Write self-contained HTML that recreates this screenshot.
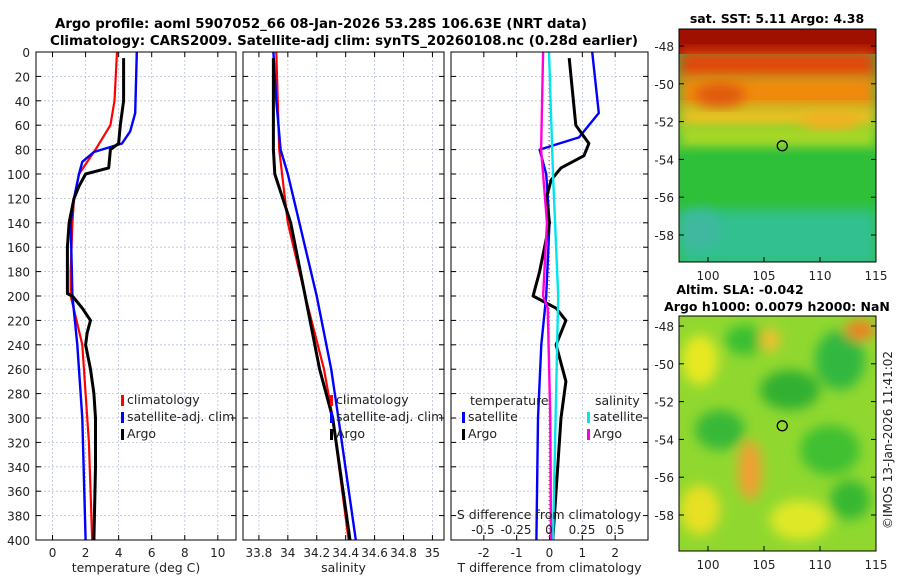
<!DOCTYPE html>
<html><head><meta charset="utf-8"><style>
body{margin:0;background:#fff;}
svg{display:block;font-family:"DejaVu Sans","Liberation Sans",sans-serif;}
</style></head><body>
<svg id="c" width="900" height="580" xmlns="http://www.w3.org/2000/svg">
<defs>
<filter id="blur" x="-20%" y="-20%" width="140%" height="140%"><feGaussianBlur stdDeviation="6"/></filter>
<clipPath id="m1"><rect x="679" y="29" width="197" height="233"/></clipPath>
<clipPath id="m2"><rect x="679" y="316" width="197" height="235"/></clipPath>
</defs>
<text x="55" y="28" font-size="13" font-weight="bold" textLength="532" lengthAdjust="spacingAndGlyphs">Argo profile: aoml 5907052_66 08-Jan-2026 53.28S 106.63E (NRT data)</text>
<text x="50" y="45" font-size="13" font-weight="bold" textLength="588" lengthAdjust="spacingAndGlyphs">Climatology: CARS2009. Satellite-adj clim: synTS_20260108.nc (0.28d earlier)</text>
<g id="maps">
<g clip-path="url(#m1)">
<rect x="679" y="29" width="197" height="233" fill="#2fbf3f"/>
<rect x="679" y="29" width="197" height="25" fill="#a01000"/>
<rect x="679" y="50" width="197" height="30" fill="#e04a10" filter="url(#blur)"/>
<rect x="679" y="75" width="197" height="35" fill="#f08a10" filter="url(#blur)"/>
<rect x="679" y="105" width="197" height="25" fill="#e8c020" filter="url(#blur)"/>
<rect x="679" y="125" width="197" height="25" fill="#a8d828" filter="url(#blur)"/>
<rect x="679" y="150" width="197" height="65" fill="#2fc038" filter="url(#blur)"/>
<rect x="679" y="210" width="197" height="55" fill="#30c090" filter="url(#blur)"/>
<ellipse cx="720" cy="95" rx="25" ry="12" fill="#e05a10" filter="url(#blur)"/>
<ellipse cx="830" cy="120" rx="30" ry="10" fill="#f0b020" filter="url(#blur)"/>
<ellipse cx="700" cy="230" rx="20" ry="20" fill="#40b8a0" filter="url(#blur)"/>
</g>
<g clip-path="url(#m2)">
<rect x="679" y="316" width="197" height="235" fill="#90d830"/>
<g filter="url(#blur)">
<ellipse cx="700" cy="360" rx="18" ry="25" fill="#e8e820"/>
<ellipse cx="745" cy="340" rx="20" ry="15" fill="#38c030"/>
<ellipse cx="790" cy="390" rx="30" ry="20" fill="#30b030"/>
<ellipse cx="840" cy="360" rx="25" ry="30" fill="#30b840"/>
<ellipse cx="860" cy="330" rx="15" ry="10" fill="#f08020"/>
<ellipse cx="750" cy="470" rx="12" ry="30" fill="#f0a030"/>
<ellipse cx="720" cy="430" rx="25" ry="20" fill="#38b838"/>
<ellipse cx="830" cy="450" rx="30" ry="25" fill="#40c030"/>
<ellipse cx="800" cy="520" rx="30" ry="20" fill="#e0e828"/>
<ellipse cx="700" cy="510" rx="20" ry="25" fill="#e8e020"/>
<ellipse cx="770" cy="340" rx="10" ry="12" fill="#f0c030"/>
<ellipse cx="850" cy="500" rx="20" ry="20" fill="#38b830"/>
</g>
</g>
<rect x="679" y="29" width="197" height="233" fill="none" stroke="#000"/>
<rect x="679" y="316" width="197" height="235" fill="none" stroke="#000"/>
<text x="777" y="23" text-anchor="middle" font-size="12.5" font-weight="bold">sat. SST: 5.11 Argo: 4.38</text>
<text x="740" y="294" text-anchor="middle" font-size="12.5" font-weight="bold">Altim. SLA: -0.042</text>
<text x="777" y="311" text-anchor="middle" font-size="12.5" font-weight="bold">Argo h1000: 0.0079 h2000: NaN</text>
<text transform="translate(892,440) rotate(-90)" text-anchor="middle" font-size="12" fill="#222">©IMOS 13-Jan-2026 11:41:02</text>
</g>
</svg>
<script>
// ---- data ----
const tDepth=[5,40,60,75,80,95,100,110,120,140,160,180,198,200,210,220,230,240,260,280,300,340,400];
const tArgo=[4.3,4.3,4.1,4.0,3.5,3.4,2.0,1.6,1.3,1.0,0.9,0.9,0.9,1.2,1.8,2.3,2.1,2.0,2.3,2.5,2.6,2.6,2.5];
const cDepth=[0,40,60,80,100,120,140,180,200,240,280,320,400];
const tClim=[3.9,3.75,3.5,2.6,1.6,1.3,1.2,1.1,1.1,1.8,2.0,2.2,2.4];
const sDepth=[0,50,65,75,82,90,100,120,140,200,240,300,400];
const tSat=[5.1,5.0,4.7,4.2,2.5,1.8,1.6,1.3,1.1,1.2,1.5,1.8,2.0];
const saDepth=[5,80,100,140,200,260,300,400];
const sArgo=[33.9,33.9,33.91,34.02,34.12,34.22,34.31,34.43];
const scDepth=[0,80,140,200,260,300,400];
const sClim=[33.92,33.94,34.0,34.12,34.25,34.31,34.42];
const ssDepth=[0,40,80,100,140,200,260,300,400];
const sSat=[33.9,33.92,33.95,34.0,34.08,34.2,34.3,34.35,34.47];
const dDepth=[5,60,75,85,95,105,120,140,180,200,210,220,240,270,300,400];
const dTArgo=[0.6,0.8,1.2,1.05,0.35,0.05,-0.1,0.0,-0.3,-0.5,0.2,0.5,0.2,0.5,0.35,0.1];
const dsDepth=[0,50,70,80,100,140,200,240,300,400];
const dTSat=[1.3,1.5,0.9,-0.3,-0.1,0.0,-0.1,-0.25,-0.35,-0.4];
const dcDepth=[0,100,200,300,400];
const dSSat=[0,0.03,0.07,0.05,0.03];
const dmDepth=[0,80,140,200,210,300,400];
const dSArgo=[-0.045,-0.06,-0.015,-0.045,-0.01,0.01,0.015];
const depthTicks=[0,20,40,60,80,100,120,140,160,180,200,220,240,260,280,300,320,340,360,380,400];
const tTicks=[0,2,4,6,8,10];
const sTicks=[33.8,34,34.2,34.4,34.6,34.8,35];
const sTickLabels=["33.8","34","34.2","34.4","34.6","34.8","35"];
const dTTicks=[-2,-1,0,1,2];
const dSTicks=[-0.5,-0.25,0,0.25,0.5];
const latTicks=[-48,-50,-52,-54,-56,-58];
const lonTicks=[100,105,110,115];
const argoLon=106.63, argoLat=-53.28;

const svg=document.getElementById('c');
const NS='http://www.w3.org/2000/svg';
function mk(tag,attrs,parent){const e=document.createElementNS(NS,tag);for(const k in attrs)e.setAttribute(k,attrs[k]);(parent||svg).appendChild(e);return e;}
const Y0=52,Y1=540;
const yD=d=>Y0+(d/400)*(Y1-Y0);
function lin(d0,d1,r0,r1){return v=>r0+(v-d0)/(d1-d0)*(r1-r0);}
const panels=[
 {x0:36,x1:236,sx:lin(-1,11.1,36,236),ticks:tTicks,labels:tTicks.map(String),xl:"temperature (deg C)",name:"temperature"},
 {x0:243,x1:444,sx:lin(33.69,35.08,243,444),ticks:sTicks,labels:sTickLabels,xl:"salinity",name:"salinity"},
 {x0:451,x1:648,sx:lin(-3,3,451,648),ticks:dTTicks,labels:dTTicks.map(String),xl:"T difference from climatology",name:"difference"}
];
panels.forEach((p,i)=>{
 const g=mk('g',{});
 
 
 depthTicks.forEach(d=>{if(d>0&&d<400)mk('line',{x1:p.x0,x2:p.x1,y1:yD(d),y2:yD(d),stroke:'#b8c0e0','stroke-width':0.8,'stroke-dasharray':'2,2'},g);});
 p.ticks.forEach(t=>{const x=p.sx(t);mk('line',{x1:x,x2:x,y1:Y0,y2:Y1,stroke:'#b8c0e0','stroke-width':0.8,'stroke-dasharray':'2,2'},g);
  mk('line',{x1:x,x2:x,y1:Y1,y2:Y1-5,stroke:'#000'},g);mk('line',{x1:x,x2:x,y1:Y0,y2:Y0+5,stroke:'#000'},g);});
 p.ticks.forEach((t,j)=>{const tx=mk('text',{x:p.sx(t),y:Y1+17,'text-anchor':'middle','font-size':12,fill:'#222'},g);tx.textContent=p.labels[j];});
 depthTicks.forEach(d=>{mk('line',{x1:p.x0,x2:p.x0+5,y1:yD(d),y2:yD(d),stroke:'#000'},g);mk('line',{x1:p.x1,x2:p.x1-5,y1:yD(d),y2:yD(d),stroke:'#000'},g);});
 const xl=mk('text',{x:(p.x0+p.x1)/2,y:572,'text-anchor':'middle','font-size':12.5,fill:'#222'},g);xl.textContent=p.xl;
 p.g=g;
});
depthTicks.forEach(d=>{const t=mk('text',{x:30,y:yD(d)+5,'text-anchor':'end','font-size':12,fill:'#222'});t.textContent=d;
 });
function line(xs,ds,sx,color,w,name,parent){
 const pts=xs.map((v,i)=>sx(v).toFixed(1)+','+yD(ds[i]).toFixed(1)).join(' ');
 const e=mk('polyline',{points:pts,fill:'none',stroke:color,'stroke-width':w,'stroke-linejoin':'round'},parent);
 
 
}
const P=panels;
line(tClim,cDepth,P[0].sx,'#ff0000',2.2,'temp-climatology-line',P[0].g);
line(tSat,sDepth,P[0].sx,'#0000ff',2.4,'temp-satellite-line',P[0].g);
line(tArgo,tDepth,P[0].sx,'#000',3,'temp-argo-line',P[0].g);
line(sClim,scDepth,P[1].sx,'#ff0000',2.2,'sal-climatology-line',P[1].g);
line(sSat,ssDepth,P[1].sx,'#0000ff',2.4,'sal-satellite-line',P[1].g);
line(sArgo,saDepth,P[1].sx,'#000',3,'sal-argo-line',P[1].g);
const sxS=lin(0,0.5,549,615);
mk('line',{x1:549,x2:549,y1:Y0,y2:Y1,stroke:'#a05070','stroke-width':1,'stroke-dasharray':'1,3'},P[2].g);
line(dTSat,dsDepth,P[2].sx,'#0000ff',2.4,'tdiff-satellite-line',P[2].g);
line(dTArgo,dDepth,P[2].sx,'#000',3,'tdiff-argo-line',P[2].g);
line(dSSat,dcDepth,sxS,'#00e5ee',2.4,'sdiff-satellite-line',P[2].g);
line(dSArgo,dmDepth,sxS,'#ff00dd',2.4,'sdiff-argo-line',P[2].g);
const st=mk('text',{x:549,y:519,'text-anchor':'middle','font-size':12.5,fill:'#222'});st.textContent='S difference from climatology';

dSTicks.forEach(t=>{const e=mk('text',{x:sxS(t),y:534,'text-anchor':'middle','font-size':12,fill:'#222'});e.textContent=String(t);
 });
panels.forEach(p=>mk('rect',{x:p.x0,y:Y0,width:p.x1-p.x0,height:Y1-Y0,fill:'none',stroke:'#000'}));
// legends
function leg(x,y,color,label,name){const g=mk('g',{});
 mk('rect',{x:x,y:y-9,width:3,height:11,fill:color},g);const t=mk('text',{x:x+6,y:y,'font-size':12.5,fill:'#222'},g);t.textContent=label;}
leg(121,404,'#ff0000','climatology','legend-climatology');
leg(121,421,'#0000ff','satellite-adj. clim','legend-satellite');
leg(121,438,'#000','Argo','legend-argo');
leg(330,404,'#ff0000','climatology','legend-climatology-2');
leg(330,421,'#0000ff','satellite-adj. clim','legend-satellite-2');
leg(330,438,'#000','Argo','legend-argo-2');
let t1=mk('text',{x:470,y:405,'font-size':12.5,fill:'#222'});t1.textContent='temperature';
let t2=mk('text',{x:595,y:405,'font-size':12.5,fill:'#222'});t2.textContent='salinity';
leg(462,421,'#0000ff','satellite','legend-tdiff-satellite');
leg(462,438,'#000','Argo','legend-tdiff-argo');
leg(587,421,'#00e5ee','satellite','legend-sdiff-satellite');
leg(587,438,'#ff00dd','Argo','legend-sdiff-argo');
// map axes
const lonX=lin(100,115,708,876);
[[29,262,46],[316,551,326]].forEach((m,k)=>{
 const latY=lin(-48,-58,m[2],m[2]+189);
 latTicks.forEach(l=>{const y=latY(l);if(y<m[0]||y>m[1])return;
  mk('line',{x1:679,x2:684,y1:y,y2:y,stroke:'#000'});mk('line',{x1:876,x2:871,y1:y,y2:y,stroke:'#000'});
  const e=mk('text',{x:674,y:y+5,'text-anchor':'end','font-size':12,fill:'#222'});e.textContent=l;
  });
 lonTicks.forEach(l=>{const x=lonX(l);mk('line',{x1:x,x2:x,y1:m[1],y2:m[1]-5,stroke:'#000'});
  const e=mk('text',{x:x,y:m[1]+18,'text-anchor':'middle','font-size':12,fill:'#222'});e.textContent=l;
  });
 const c=mk('circle',{cx:lonX(argoLon),cy:latY(argoLat),r:5,fill:'none',stroke:'#000','stroke-width':1.3});
 
 
});
</script>
</body></html>
